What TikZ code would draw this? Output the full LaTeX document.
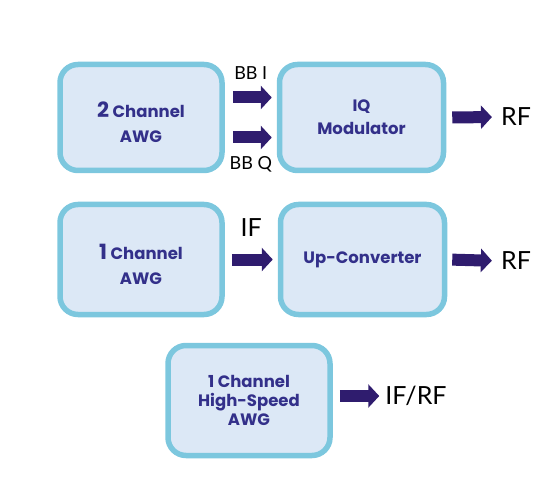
\documentclass[tikz,border=0pt]{standalone}
\usepackage{fontspec}
\newfontfamily\boxfont{Poppins}
\newfontfamily\labelfont{Lato}
\usetikzlibrary{arrows.meta, positioning}
\definecolor{boxline}{HTML}{7CC7DE}
\definecolor{boxfill}{HTML}{DCE8F6}
\definecolor{boxtext}{HTML}{33308A}
\definecolor{arrowc}{HTML}{2F1C6E}
\tikzset{
  awgbox/.style={draw=boxline, line width=5.5pt, fill=boxfill, rounded corners=18pt,
    minimum width=162pt, minimum height=106pt, align=center, text=boxtext,
    font=\boxfont\bfseries\fontsize{16.5}{20}\selectfont},
  blockarrow/.style={draw=arrowc, line width=12pt, -{Triangle[length=11pt,width=23pt]}},
  siglabel/.style={font=\labelfont\fontsize{25}{27}\selectfont, inner sep=0pt},
  smalllabel/.style={font=\labelfont\fontsize{18}{20}\selectfont, inner sep=0pt},
}
\newcommand{\bigdigit}[1]{{\fontsize{21}{22}\selectfont\rule{0pt}{26pt}#1}}

\begin{document}
\begin{tikzpicture}[x=1pt,y=-1pt]
  \useasboundingbox (0,0) rectangle (540,486);
  % top row: two channel AWG into IQ modulator
  \node[awgbox] (awgtwo) at (141,117.5) {\bigdigit{2} Channel\\[5pt] AWG};
  \node[awgbox, minimum width=164pt, right=52pt of awgtwo] (iqmod) {IQ\\[3pt] Modulator};
  \node[siglabel] (rfa) at (516,117) {RF};
  \draw[blockarrow, shorten <=8pt, shorten >=5pt] ([yshift=20pt]awgtwo.east) -- ([yshift=20pt]iqmod.west)
    node[smalllabel, midway, above=12pt] {BB I};
  \draw[blockarrow, shorten <=8pt, shorten >=5pt] ([yshift=-20pt]awgtwo.east) -- ([yshift=-20pt]iqmod.west)
    node[smalllabel, midway, below=13pt] {BB Q};
  \draw[blockarrow, shorten <=6pt, shorten >=9pt] (iqmod.east) -- (rfa.west);

  % middle row: one channel AWG into up-converter
  \node[awgbox, minimum height=110pt] (awgone) at (141,259.5) {\bigdigit{1} Channel\\[5pt] AWG};
  \node[awgbox, minimum height=110pt, minimum width=164pt, right=53pt of awgone] (upconv) {Up-Converter};
  \node[siglabel] (rfb) at (516,261) {RF};
  \draw[blockarrow, shorten <=7pt, shorten >=5pt] (awgone) -- (upconv)
    node[siglabel, midway, above=17pt] {IF};
  \draw[blockarrow, shorten <=5pt, shorten >=9pt] (upconv.east) -- (rfb.west);

  % bottom row: high-speed AWG
  \node[awgbox, minimum height=110pt] (awghs) at (249,400.5) {1 Channel\\[-1pt] High-Speed\\[-1pt] AWG};
  \node[siglabel] (ifrf) at (416,396) {IF/RF};
  \draw[blockarrow, shorten <=7pt, shorten >=6pt] (awghs.east |- ifrf.west) -- (ifrf.west);
\end{tikzpicture}
\end{document}
